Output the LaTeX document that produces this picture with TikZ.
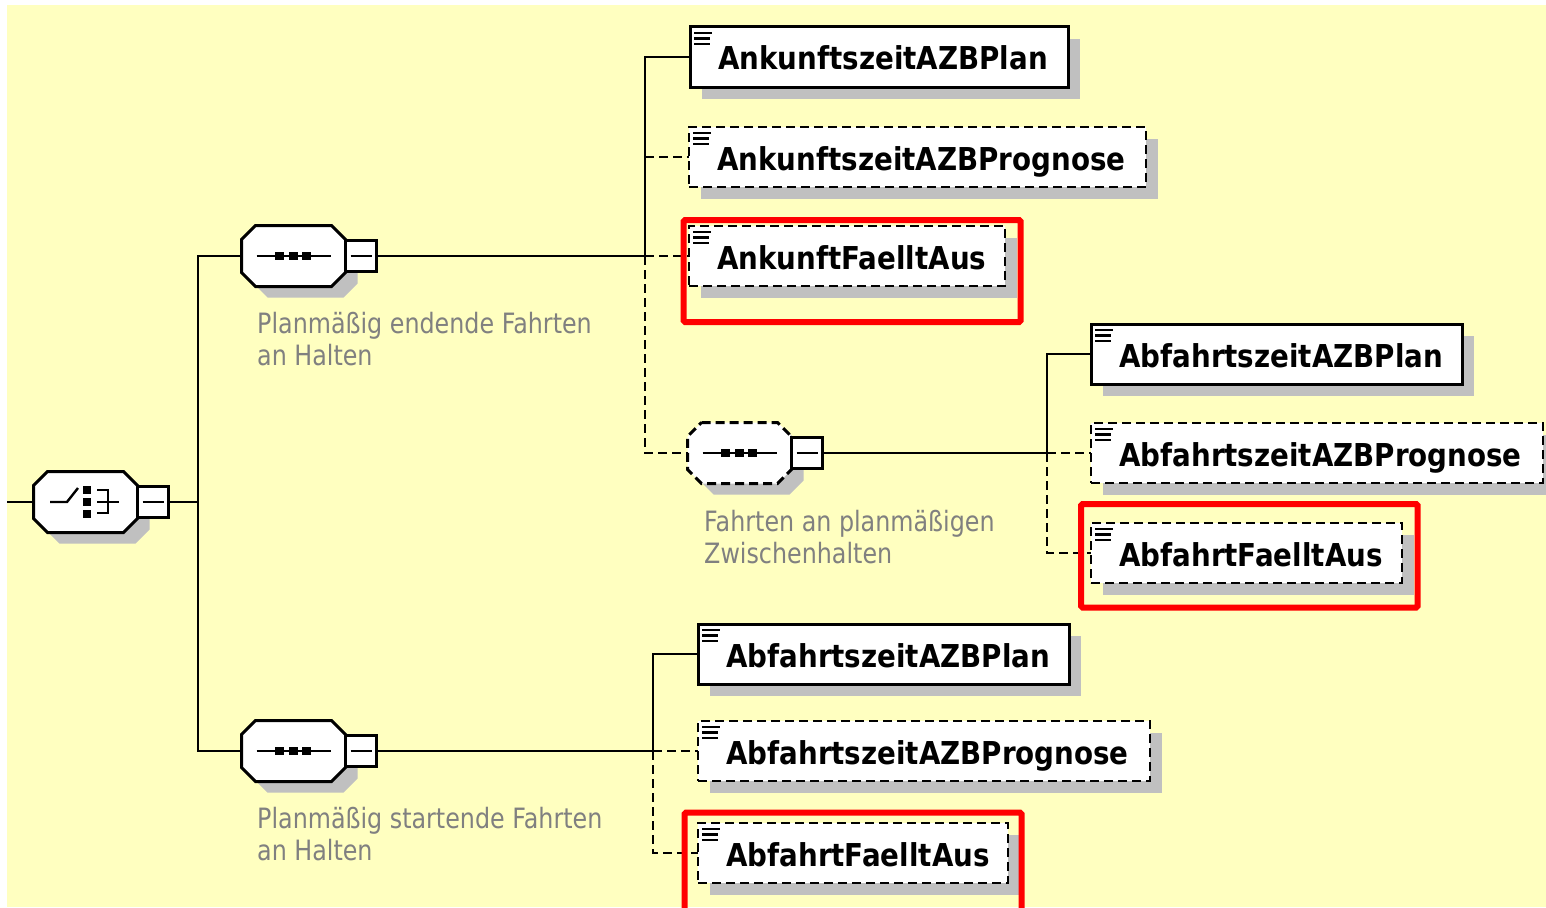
\documentclass[tikz,border=0pt]{standalone}
\usepackage{fontspec}
\newfontfamily\dvfont[FakeStretch=0.88]{DejaVu Sans}
\newfontfamily\dvlfont[FakeStretch=0.85]{DejaVu Sans}
\usetikzlibrary{calc}
\definecolor{bgy}{RGB}{255,255,192}
\definecolor{shad}{RGB}{192,192,192}
\definecolor{lbl}{RGB}{128,128,128}
\definecolor{hl}{RGB}{255,0,0}
\tikzset{
  conn/.style={line width=2.5pt, black},
  optconn/.style={conn, dash pattern=on 9pt off 5pt},
  elem/.style={draw, fill=white, line width=3pt, inner sep=0pt, outer sep=0pt, anchor=north west},
  optelem/.style={elem, line width=2.5pt, dash pattern=on 9pt off 5pt},
  etxt/.style={font=\dvfont\bfseries\fontsize{31.5}{36}\selectfont, inner sep=0pt, anchor=base west},
  ltxt/.style={font=\dvlfont\fontsize{28}{32}\selectfont, text=lbl, inner sep=0pt, anchor=base west},
  octbox/.style={inner sep=0pt, outer sep=0pt, minimum width=104pt, minimum height=61pt},
  minusbox/.style={draw, fill=white, line width=2.5pt, inner sep=0pt, outer sep=0pt, minimum size=31pt},
  hlbox/.style={draw=hl, line width=6pt, rounded corners=1.5pt},
  octline/.style={fill=white, draw=black, line width=3pt},
  octdash/.style={octline, dash pattern=on 9pt off 5pt}
}
% element box: name, style, left, top, right, bottom, text
\newcommand{\elembox}[7]{%
  \fill[shad] ({#3+12},{#4+12}) rectangle ({#5+12},{#6+12});
  \node[#2, minimum width={#5-#3}, minimum height={#6-#4}] (#1) at (#3,#4) {};
  \draw[line width=2.4pt] ({#3+4},{#4+6}) -- ++(18,0)
    ({#3+4},{#4+11.5}) -- ++(16,0) ({#3+4},{#4+17}) -- ++(16,0);
  \node[etxt] (#1t) at ({#3+28},{#4+43}) {#7};
}
% octagon compositor: name, cx, cy, style
\newcommand{\octo}[4]{%
  \fill[shad] ({#2-38+12},{#3-30.5+11}) -- ({#2+38+12},{#3-30.5+11}) -- ({#2+52+12},{#3-16.5+11})
    -- ({#2+52+12},{#3+16.5+11}) -- ({#2+38+12},{#3+30.5+11}) -- ({#2-38+12},{#3+30.5+11})
    -- ({#2-52+12},{#3+16.5+11}) -- ({#2-52+12},{#3-16.5+11}) -- cycle;
  \node[octbox] (#1) at (#2,#3) {};
  \path[#4] ({#2-38},{#3-30.5}) -- ({#2+38},{#3-30.5}) -- ({#2+52},{#3-16.5})
    -- ({#2+52},{#3+16.5}) -- ({#2+38},{#3+30.5}) -- ({#2-38},{#3+30.5})
    -- ({#2-52},{#3+16.5}) -- ({#2-52},{#3-16.5}) -- cycle;
  \node[minusbox] (#1m) at ({#2+52+15.5},#3) {};
  \draw[line width=2pt] ($(#1m.west)+(5,0)$) -- ($(#1m.east)+(-5,0)$);
}
% sequence symbol inside octagon
\newcommand{\seqsym}[2]{%
  \draw[line width=2.4pt] ({#1-37},#2) -- ({#1+37},#2);
  \foreach \dx in {-14,0,13} \fill ({#1+\dx-4.3},{#2-4.3}) rectangle ({#1+\dx+4.3},{#2+4.3});
}
\begin{document}
\begin{tikzpicture}[x=1pt,y=-1pt]
\useasboundingbox (0,0) rectangle (1546,907);
\clip (0,0) rectangle (1546,907);
\fill[bgy] (7,5) rectangle (1546,907);

% ---- choice compositor
\octo{ch}{85.5}{502}{octline}
\draw[line width=2.4pt] (50,502) -- (67,502) -- (78,488);
\foreach \yy in {489.5,501.5,513.5} \fill (82.5,{\yy-4}) rectangle (90.5,{\yy+4});
\draw[line width=2.4pt] (97,490) -- (108,490) -- (108,513) -- (97,513) (97,502) -- (119,502);

% ---- sequences
\octo{seq1}{293.5}{256}{octline}
\seqsym{293.5}{256}
\octo{seq2}{293.5}{751}{octline}
\seqsym{293.5}{751}
\octo{seq3}{739.5}{453}{octdash}
\seqsym{739.5}{453}

% ---- labels
\node[ltxt] (l1a) at (257,333) {Planmäßig endende Fahrten};
\node[ltxt] (l1b) at (257,365) {an Halten};
\node[ltxt] (l2a) at (704,531) {Fahrten an planmäßigen};
\node[ltxt] (l2b) at (704,563) {Zwischenhalten};
\node[ltxt] (l3a) at (257,828) {Planmäßig startende Fahrten};
\node[ltxt] (l3b) at (257,860) {an Halten};

% ---- elements
\elembox{b1}{elem}{690}{27}{1068}{87}{AnkunftszeitAZBPlan}
\elembox{b2}{optelem}{689}{127}{1146}{187}{AnkunftszeitAZBPrognose}
\elembox{b3}{optelem}{689}{226}{1005}{286}{AnkunftFaelltAus}
\elembox{c1}{elem}{1091}{324}{1462}{384}{AbfahrtszeitAZBPlan}
\elembox{c2}{optelem}{1091}{423}{1543}{483}{AbfahrtszeitAZBPrognose}
\elembox{c3}{optelem}{1091}{523}{1402}{583}{AbfahrtFaelltAus}
\elembox{d1}{elem}{698}{624}{1069}{684}{AbfahrtszeitAZBPlan}
\elembox{d2}{optelem}{698}{721}{1150}{781}{AbfahrtszeitAZBPrognose}
\elembox{d3}{optelem}{698}{823}{1008}{883}{AbfahrtFaelltAus}

% ---- connectors
\coordinate (in) at (7,502);
\coordinate (j0) at (198,502);
\coordinate (j1) at (645,256);
\coordinate (j2) at (1047,453);
\coordinate (j3) at (653,751);
\draw[conn] (in) -- (ch.west);
\draw[conn] (chm.east) -- (j0);
\draw[conn] (seq1.west) -| (j0) |- (seq2.west);

\draw[conn] (seq1m.east) -- (j1);
\draw[conn] (j1) |- (b1.west);
\draw[optconn] (j1 |- b2.west) -- (b2.west);
\draw[optconn] (j1) -- (b3.west);
\draw[optconn] (j1) |- (seq3.west);

\draw[conn] (seq3m.east) -- (j2);
\draw[conn] (j2) |- (c1.west);
\draw[optconn] (j2) -- (c2.west);
\draw[optconn] (j2) |- (c3.west);

\draw[conn] (seq2m.east) -- (j3);
\draw[conn] (j3) |- (d1.west);
\draw[optconn] (j3) -- (d2.west);
\draw[optconn] (j3) |- (d3.west);

% ---- highlights
\draw[hlbox] (683.5,220) rectangle (1020.5,322);
\draw[hlbox] (1081,504) rectangle (1417.5,607.5);
\draw[hlbox] (684.5,812.5) rectangle (1021.5,930);
\end{tikzpicture}
\end{document}
